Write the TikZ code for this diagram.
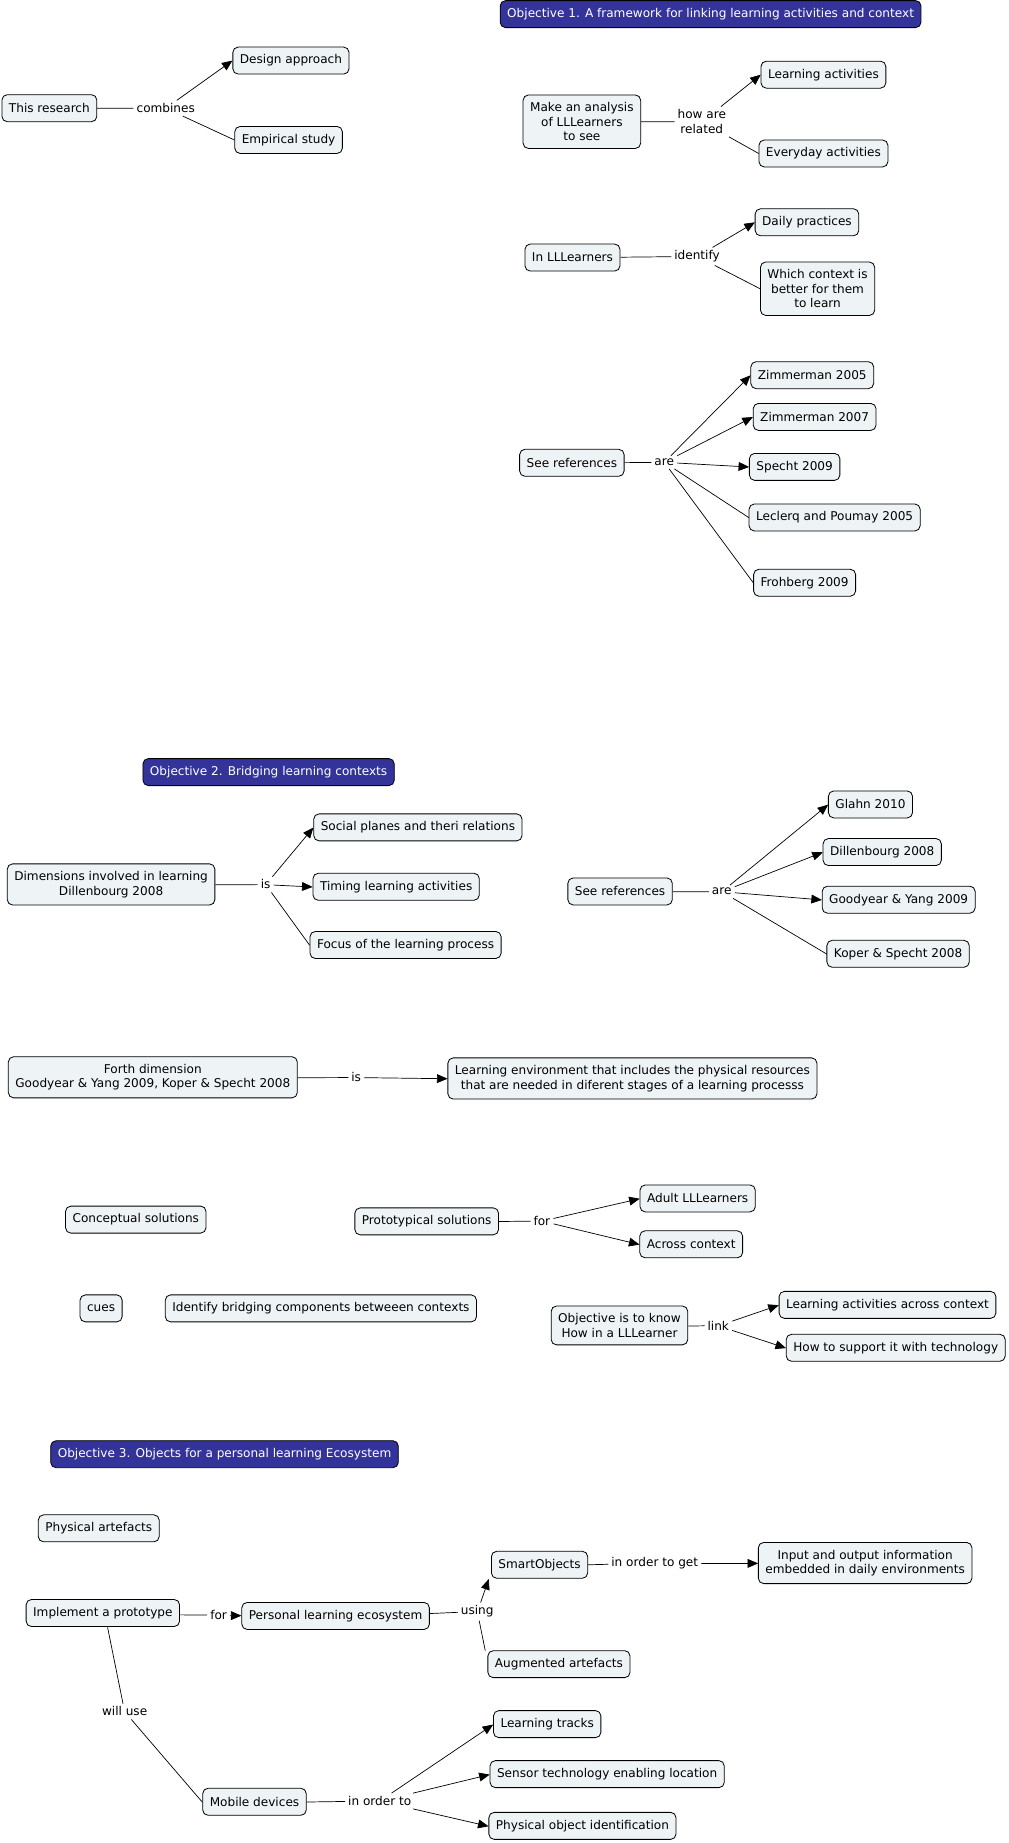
\documentclass[tikz,border=0pt]{standalone}
\usepackage{fontspec}
\setmainfont{DejaVu Sans}
\usetikzlibrary{arrows.meta}
\definecolor{cfill}{HTML}{EEF4F6}
\definecolor{objfill}{HTML}{333399}
\begin{document}
\begin{tikzpicture}[x=1pt,y=-1pt,
 concept/.style={draw=black, fill=cfill, rounded corners=4.5pt, line width=0.7pt, inner xsep=6pt, inner ysep=6.3pt, minimum height=23pt, align=center, font=\fontsize{10.3}{12.5}\selectfont},
 obj/.style={concept, fill=objfill, text=white},
 lab/.style={inner sep=2.5pt, align=center, font=\fontsize{10.3}{12.5}\selectfont},
 ln/.style={line width=0.6pt},
 arr/.style={ln, -{Triangle[length=9pt,width=7.5pt]}}]
\useasboundingbox (0,0) rectangle (860,1571);
\begin{scope}[xscale=1.002,yscale=1.0025]
% ---------- Objective 1 ----------
\node[obj] (o1) at (604.5,12) {Objective 1. A framework for linking learning activities and context};

\node[concept] (res) at (42,92) {This research};
\node[lab] (comb) at (141,92) {combines};
\node[concept] (des) at (247.5,51.5) {Design approach};
\node[concept] (emp) at (245.5,119) {Empirical study};
\draw[ln] (res) -- (comb);
\draw[arr] (comb) -- (des.west);
\draw[ln] (comb) -- (emp.west);

\node[concept] (ana) at (495,103.5) {Make an analysis\\of LLLearners\\to see};
\node[lab] (how) at (597,103.5) {how are\\related};
\node[concept] (la) at (700.5,63.5) {Learning activities};
\node[concept] (ev) at (700.5,130.5) {Everyday activities};
\draw[ln] (ana) -- (how);
\draw[arr] (how) -- (la.west);
\draw[ln] (how) -- (ev.west);

\node[concept] (inll) at (487,219) {In LLLearners};
\node[lab] (ident) at (593,218) {identify};
\node[concept] (daily) at (686.5,189) {Daily practices};
\node[concept] (which) at (695.5,245.5) {Which context is\\better for them\\to learn};
\draw[ln] (inll) -- (ident);
\draw[arr] (ident) -- (daily.west);
\draw[ln] (ident) -- (which.west);

\node[concept] (see1) at (486.5,393.5) {See references};
\node[lab] (are1) at (565,393) {are};
\node[concept] (z5) at (691,319) {Zimmerman 2005};
\node[concept] (z7) at (693,354.5) {Zimmerman 2007};
\node[concept] (sp9) at (676,397) {Specht 2009};
\node[concept] (lec) at (710,440) {Leclerq and Poumay 2005};
\node[concept] (fro) at (684.5,495.5) {Frohberg 2009};
\draw[ln] (see1) -- (are1);
\draw[arr] (are1) -- (z5.west);
\draw[arr] (are1) -- (z7.west);
\draw[arr] (are1) -- (sp9.west);
\draw[ln] (are1) -- (lec.west);
\draw[ln] (are1) -- (fro.west);

% ---------- Objective 2 ----------
\node[obj] (o2) at (228.5,656.5) {Objective 2. Bridging learning contexts};

\node[concept] (dim) at (94.5,752) {Dimensions involved in learning\\Dillenbourg 2008};
\node[lab] (is1) at (226,752) {is};
\node[concept] (soc) at (355.5,703.5) {Social planes and theri relations};
\node[concept] (tim) at (337,754) {Timing learning activities};
\node[concept] (foc) at (345,803.5) {Focus of the learning process};
\draw[ln] (dim) -- (is1);
\draw[arr] (is1) -- (soc.west);
\draw[arr] (is1) -- (tim.west);
\draw[ln] (is1) -- (foc.west);

\node[concept] (see2) at (527.5,758) {See references};
\node[lab] (are2) at (614,758) {are};
\node[concept] (gla) at (740.5,684) {Glahn 2010};
\node[concept] (dil) at (750.5,724.5) {Dillenbourg 2008};
\node[concept] (goo) at (764.5,765) {Goodyear \& Yang 2009};
\node[concept] (kop) at (764,811) {Koper \& Specht 2008};
\draw[ln] (see2) -- (are2);
\draw[arr] (are2) -- (gla.west);
\draw[arr] (are2) -- (dil.west);
\draw[arr] (are2) -- (goo.west);
\draw[ln] (are2) -- (kop.west);

\node[concept] (forth) at (130,916) {Forth dimension\\Goodyear \& Yang 2009, Koper \& Specht 2008};
\node[lab] (is2) at (303,916) {is};
\node[concept] (env) at (538,917) {Learning environment that includes the physical resources\\that are needed in diferent stages of a learning processs};
\draw[ln] (forth) -- (is2);
\draw[arr] (is2) -- (env.west);

\node[concept] (concs) at (115.5,1037) {Conceptual solutions};
\node[concept] (proto) at (363,1038.5) {Prototypical solutions};
\node[lab] (for1) at (461,1038) {for};
\node[concept] (adult) at (593.5,1019) {Adult LLLearners};
\node[concept] (across) at (588,1058) {Across context};
\draw[ln] (proto) -- (for1);
\draw[arr] (for1) -- (adult.west);
\draw[arr] (for1) -- (across.west);

\node[concept] (cues) at (86,1112.5) {cues};
\node[concept] (ibc) at (273,1112.5) {Identify bridging components betweeen contexts};
\node[concept] (know) at (527,1127) {Objective is to know\\How in a LLLearner};
\node[lab] (link) at (611,1127) {link};
\node[concept] (lac) at (755,1109.5) {Learning activities across context};
\node[concept] (hts) at (762,1146) {How to support it with technology};
\draw[ln] (know) -- (link);
\draw[arr] (link) -- (lac.west);
\draw[arr] (link) -- (hts.west);

% ---------- Objective 3 ----------
\node[obj] (o3) at (191,1236.5) {Objective 3. Objects for a personal learning Ecosystem};

\node[concept] (phys) at (84,1299.5) {Physical artefacts};
\node[concept] (impl) at (87.5,1371.5) {Implement a prototype};
\node[lab] (for2) at (186,1373) {for};
\node[concept] (pers) at (285.5,1374) {Personal learning ecosystem};
\node[lab] (using) at (406,1370) {using};
\node[concept] (smart) at (459,1330.5) {SmartObjects};
\node[concept] (aug) at (475.5,1415) {Augmented artefacts};
\node[lab] (iotg) at (557,1329) {in order to get};
\node[concept] (io) at (736,1329) {Input and output information\\embedded in daily environments};
\node[lab] (will) at (106,1455) {will use};
\node[concept] (mob) at (216.5,1532) {Mobile devices};
\node[lab] (iot) at (323,1531) {in order to};
\node[concept] (ltr) at (465.5,1466) {Learning tracks};
\node[concept] (sens) at (516.5,1508.5) {Sensor technology enabling location};
\node[concept] (poi) at (495.5,1552.5) {Physical object identification};

\draw[ln] (impl) -- (for2);
\draw[arr] (for2) -- (pers);
\draw[ln] (pers) -- (using);
\draw[arr] (using) -- ([xshift=-2pt]smart.south west);
\draw[ln] (using) -- ([xshift=-2pt]aug.north west);
\draw[ln] (smart) -- (iotg);
\draw[arr] (iotg) -- (io.west);
\draw[ln] ([xshift=4pt]impl.south) -- (will);
\draw[ln] (will) -- (mob.west);
\draw[ln] (mob) -- (iot);
\draw[arr] (iot) -- (ltr.west);
\draw[arr] (iot) -- (sens.west);
\draw[arr] (iot) -- (poi.west);
\end{scope}
\end{tikzpicture}
\end{document}
